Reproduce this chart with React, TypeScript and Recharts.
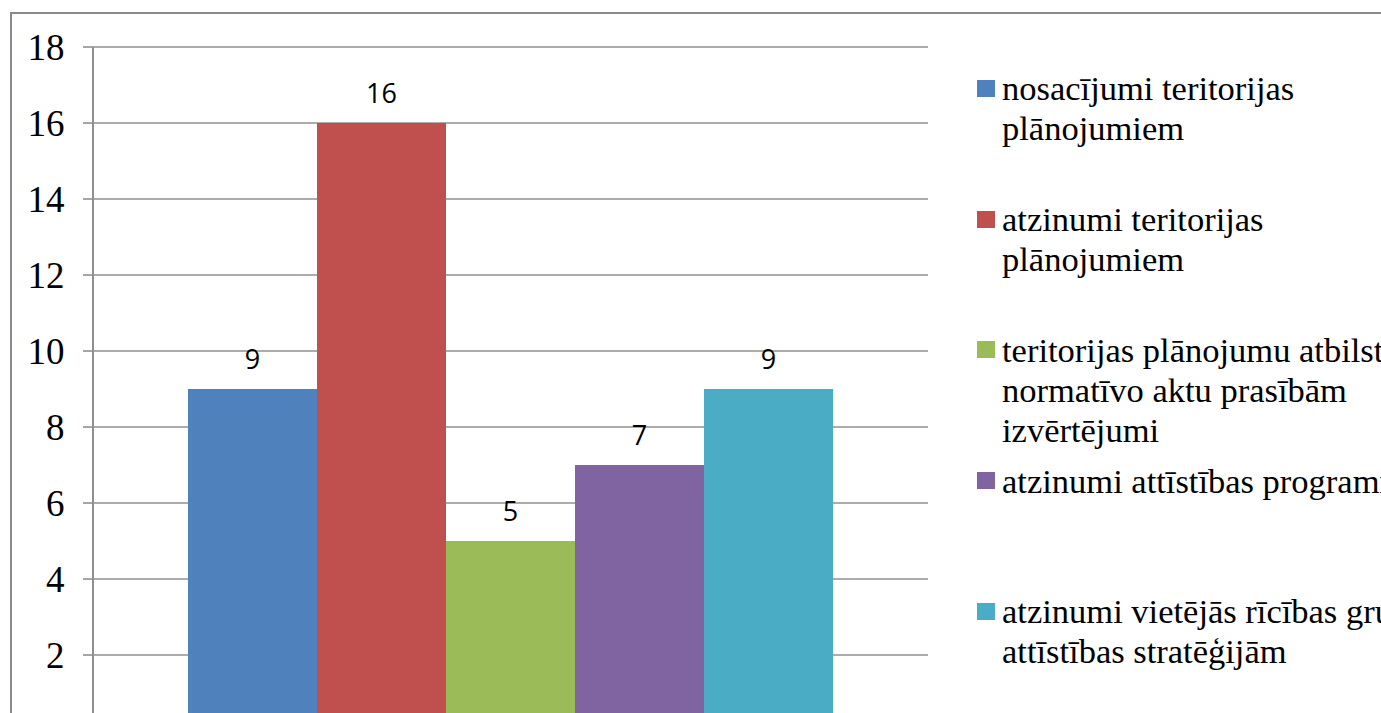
import React from "react";
import { BarChart, Bar, XAxis, YAxis, CartesianGrid, Legend, LabelList } from "recharts";

// one category, five series (Excel-style clustered column)
const CATEGORIES = [""];

const SERIES_NAMES = [
  "nosacījumi teritorijas plānojumiem",
  "atzinumi teritorijas plānojumiem",
  "teritorijas plānojumu atbilstības normatīvo aktu prasībām izvērtējumi",
  "atzinumi attīstības programmām",
  "atzinumi vietējās rīcības grupu attīstības stratēģijām",
];

// how the legend texts wrap in the source
const LEGEND_LINES = [
  ["nosacījumi teritorijas", "plānojumiem"],
  ["atzinumi teritorijas", "plānojumiem"],
  ["teritorijas plānojumu atbilstības", "normatīvo aktu prasībām", "izvērtējumi"],
  ["atzinumi attīstības programmām"],
  ["atzinumi vietējās rīcības grupu", "attīstības stratēģijām"],
];

const SERIES_VALUES = [9, 16, 5, 7, 9];

const SERIES_COLORS = ["#4F81BD", "#C0504D", "#9BBB59", "#8064A2", "#4BACC6"];

const Y_TICKS = [0, 2, 4, 6, 8, 10, 12, 14, 16, 18];

const GRID = "#909090";
const SERIF = '"Liberation Serif", "Times New Roman", serif';

const data = CATEGORIES.map((name) => {
  const row: Record<string, string | number> = { name };
  SERIES_VALUES.forEach((v, i) => {
    row[`s${i}`] = v;
  });
  return row;
});

function renderLegend(props: any) {
  const payload = [...(props.payload || [])].sort(
    (a: any, b: any) => SERIES_NAMES.indexOf(a.value) - SERIES_NAMES.indexOf(b.value)
  );
  return (
    <div style={{ fontFamily: SERIF, fontSize: 34.5, lineHeight: "40px", color: "#000" }}>
      {payload.map((p: any) => {
        const idx = SERIES_NAMES.indexOf(p.value);
        return (
          <div key={p.value} style={{ position: "relative", height: 130.75, paddingLeft: 25 }}>
            <span
              style={{
                position: "absolute",
                left: 0,
                top: 11.6,
                width: 18,
                height: 17,
                background: p.color,
              }}
            />
            {(LEGEND_LINES[idx] || [p.value]).map((line) => (
              <div key={line} style={{ whiteSpace: "nowrap" }}>
                {line}
              </div>
            ))}
          </div>
        );
      })}
    </div>
  );
}

export default function App() {
  return (
    <div
      style={{
        position: "fixed",
        left: 0,
        top: 0,
        width: "100vw",
        height: "100vh",
        overflow: "hidden",
        background: "#fff",
      }}
    >
      {/* chart frame */}
      <div
        style={{
          position: "absolute",
          left: 10,
          top: 12,
          width: 2000,
          height: 2000,
          border: "2px solid #8a8a8a",
        }}
      />
      <div style={{ position: "absolute", left: 0, top: 0 }}>
        <BarChart
          width={1381}
          height={760}
          data={data}
          margin={{ top: 47, right: 453, bottom: 29, left: 0 }}
          barSize={129}
          barGap={0}
        >
          <CartesianGrid vertical={false} stroke={GRID} strokeWidth={1.6} />
          <XAxis dataKey="name" hide />
          <YAxis
            width={93}
            domain={[0, 18]}
            ticks={Y_TICKS}
            interval={0}
            axisLine={{ stroke: GRID, strokeWidth: 2 }}
            tickLine={{ stroke: GRID, strokeWidth: 1.6 }}
            tickSize={10}
            tickMargin={18.5}
            tick={{ fill: "#000", fontSize: 37, fontFamily: SERIF }}
          />
          <Legend
            layout="vertical"
            align="center"
            verticalAlign="middle"
            content={renderLegend}
            wrapperStyle={{ left: 977, top: 68.4, width: 600 }}
          />
          {SERIES_NAMES.map((name, i) => (
            <Bar
              key={name}
              dataKey={`s${i}`}
              name={name}
              fill={SERIES_COLORS[i]}
              isAnimationActive={false}
            >
              <LabelList
                dataKey={`s${i}`}
                position="top"
                offset={20}
                fill="#000"
                fontSize={27}
                fontFamily='"Open Sans", sans-serif'
              />
            </Bar>
          ))}
        </BarChart>
      </div>
    </div>
  );
}
